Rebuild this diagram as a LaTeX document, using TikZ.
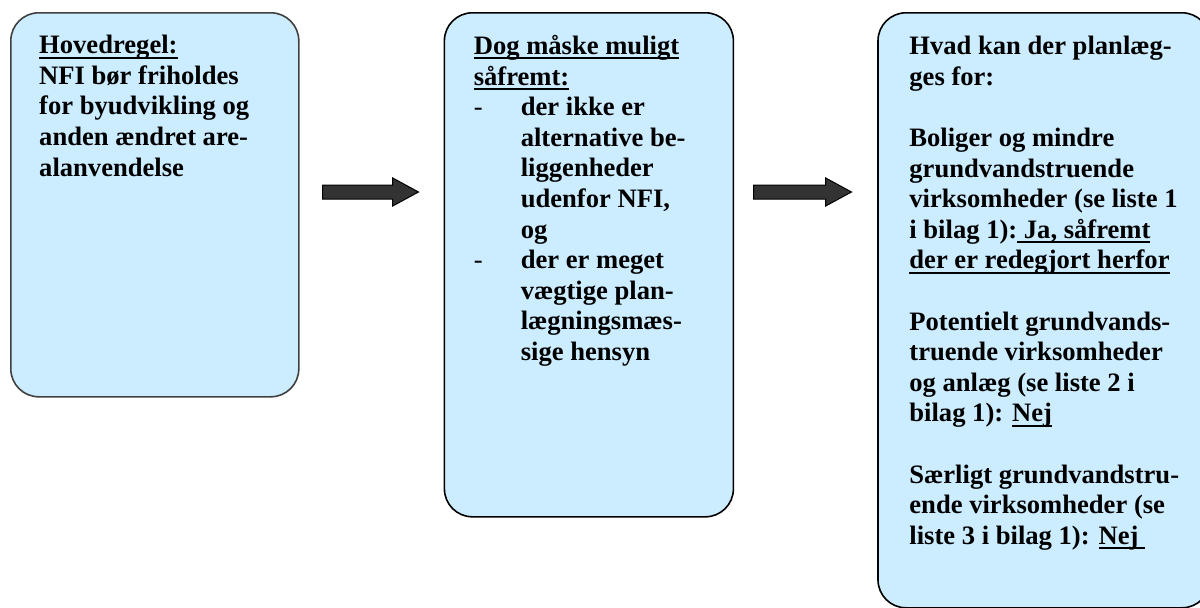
\documentclass[tikz,border=0pt]{standalone}
\usepackage{fontspec}
\setmainfont{Liberation Serif}
\usetikzlibrary{positioning}
\usetikzlibrary{shapes.arrows}
\definecolor{boxblue}{HTML}{CCECFF}
\definecolor{arrowgray}{HTML}{333333}
\definecolor{edgegray}{HTML}{404040}
\newcommand{\ulin}[1]{\setbox0\hbox{#1}\rlap{\rule[-5pt]{\wd0}{2pt}}\box0}
\newcommand{\dashline}[1]{\makebox[47pt][l]{\mdseries -}#1}
\newcommand{\indline}[1]{\hspace*{47pt}#1}
\tikzset{
  rulebox/.style={
    draw=black, line width=1.6pt, fill=boxblue,
    rounded corners=28pt, inner sep=0pt,
  },
  boxtext/.style={
    anchor=north west, inner sep=0pt, align=left,
    font=\fontsize{26.6}{30.6}\selectfont\bfseries,
  },
  blockarrow/.style={
    single arrow, draw=black, fill=arrowgray, line width=1pt,
    inner xsep=0pt, inner ysep=6.5pt, text width=0pt, text height=0pt, text depth=0pt,
    single arrow head extend=7pt, single arrow tip angle=57, anchor=tail,
  },
}

\begin{document}
\begin{tikzpicture}[x=1pt, y=-1pt]

  \useasboundingbox (0,0) rectangle (1200,608);
  \clip (0,0) rectangle (1200,608);

  % Boxes
  \node[rulebox, draw=edgegray, anchor=north west, minimum width=288pt, minimum height=384pt] (box1) at (10,12) {};
  \node[rulebox, right=144pt of box1.north east, anchor=north west, minimum width=289pt, minimum height=504pt] (box2) {};
  \node[rulebox, right=143pt of box2.north east, anchor=north west, minimum width=332pt, minimum height=595pt] (box3) {};

  % Arrows
  \node[blockarrow, minimum height=96pt] (arr1) at (322,192) {};
  \node[blockarrow, minimum height=98pt] (arr2) at (753,192) {};

  % Texts
  \node[boxtext] (txt1) at ([shift={(29,23)}]box1.north west) {%
    \ulin{Hovedregel:}\\
    NFI bør friholdes\\
    for byudvikling og\\
    anden ændret are-\\
    alanvendelse};

  \node[boxtext] (txt2) at ([shift={(30,23)}]box2.north west) {%
    \ulin{Dog måske muligt}\\
    \ulin{såfremt:}\\
    \dashline{der ikke er}\\
    \indline{alternative be-}\\
    \indline{liggenheder}\\
    \indline{udenfor NFI,}\\
    \indline{og}\\
    \dashline{der er meget}\\
    \indline{vægtige plan-}\\
    \indline{lægningsmæs-}\\
    \indline{sige hensyn}};

  \node[boxtext] (txt3) at ([shift={(32,24)}]box3.north west) {%
    Hvad kan der planlæg-\\
    ges for:\\[30.6pt]
    Boliger og mindre\\
    grundvandstruende\\
    virksomheder (se liste 1\\
    i bilag 1):\ulin{ Ja, såfremt}\\
    \ulin{der er redegjort herfor}\\[30.6pt]
    Potentielt grundvands-\\
    truende virksomheder\\
    og anlæg (se liste 2 i\\
    bilag 1): \ulin{Nej}\\[30.6pt]
    Særligt grundvandstru-\\
    ende virksomheder (se\\
    liste 3 i bilag 1): \ulin{Nej\ }};

\end{tikzpicture}
\end{document}
